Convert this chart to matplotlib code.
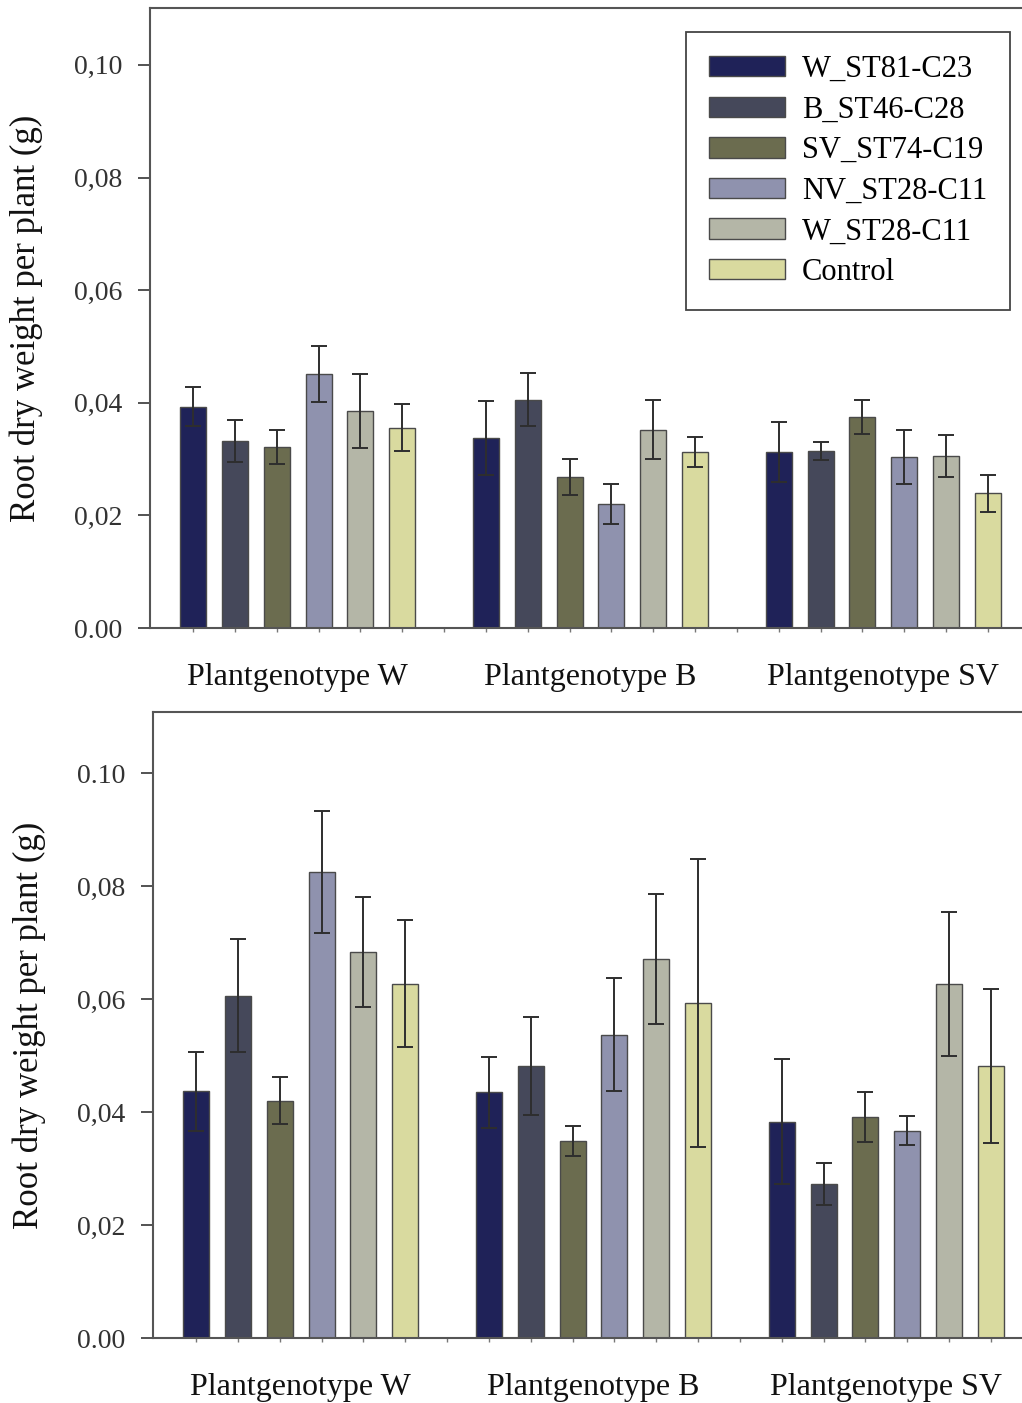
import matplotlib
matplotlib.use("Agg")
import matplotlib.pyplot as plt
import numpy as np

plt.rcParams['font.family'] = ['Liberation Serif', 'DejaVu Serif']

groups = ['Plantgenotype W', 'Plantgenotype B', 'Plantgenotype SV']
strains = ['W_ST81-C23', 'B_ST46-C28', 'SV_ST74-C19', 'NV_ST28-C11', 'W_ST28-C11', 'Control']
colors = ['#1f2258', '#45485a', '#6b6c4f', '#8f92ae', '#b4b6a7', '#d9da9f']

# Top panel (means and errors per plant genotype, order = strains)
top_mean_W = [0.0393, 0.0332, 0.0321, 0.0451, 0.0385, 0.0356]
top_err_W = [0.0035, 0.0037, 0.0030, 0.0050, 0.0066, 0.0042]
top_mean_B = [0.0337, 0.0405, 0.0268, 0.0220, 0.0352, 0.0313]
top_err_B = [0.0066, 0.0047, 0.0032, 0.0036, 0.0052, 0.0027]
top_mean_SV = [0.0313, 0.0315, 0.0374, 0.0304, 0.0306, 0.0239]
top_err_SV = [0.0053, 0.0016, 0.0030, 0.0048, 0.0037, 0.0033]

# Bottom panel
bot_mean_W = [0.0437, 0.0606, 0.0420, 0.0825, 0.0683, 0.0627]
bot_err_W = [0.0070, 0.0100, 0.0042, 0.0108, 0.0098, 0.0112]
bot_mean_B = [0.0435, 0.0481, 0.0349, 0.0537, 0.0671, 0.0593]
bot_err_B = [0.0063, 0.0087, 0.0027, 0.0100, 0.0115, 0.0255]
bot_mean_SV = [0.0383, 0.0273, 0.0391, 0.0367, 0.0627, 0.0481]
bot_err_SV = [0.0110, 0.0037, 0.0044, 0.0026, 0.0127, 0.0136]

yticks = [0.00, 0.02, 0.04, 0.06, 0.08, 0.10]
top_ytick_labels = ['0.00', '0,02', '0,04', '0,06', '0,08', '0,10']
bot_ytick_labels = ['0.00', '0,02', '0,04', '0,06', '0,08', '0.10']
ylabel = 'Root dry weight per plant (g)'

W, H = 1022, 1403
fig = plt.figure(figsize=(W / 100, H / 100), dpi=100)

def make_axes(l, t, b, r):
    return fig.add_axes([l / W, 1 - b / H, (r - l) / W, (b - t) / H])

ax_top = make_axes(150, 8, 628, 1031)
ax_bot = make_axes(153, 712, 1338, 1034)

slots = 7
bar_w = 0.62

def draw(ax, means, errs, ylim_top, tick_labels, legend=False):
    for gi, (m, e) in enumerate(zip(means, errs)):
        for si in range(6):
            x = gi * slots + si
            ax.bar(x, m[si], width=bar_w, color=colors[si], edgecolor='#4a4a4a',
                   linewidth=1.0, zorder=2, label=strains[si] if gi == 0 else None)
            ax.errorbar(x, m[si], yerr=e[si], fmt='none', ecolor='#2e2e2e',
                        elinewidth=1.4, capsize=6, capthick=1.4, zorder=3)
    ax.set_xlim(-1.03, 20.03)
    ax.set_ylim(0, ylim_top)
    ax.set_yticks(yticks)
    ax.set_yticklabels(tick_labels, fontsize=20, color='#333333')
    ax.tick_params(axis='y', direction='out', length=9, width=1.3, color='#444444', pad=11)
    centers = [gi * slots + 2.5 for gi in range(3)]
    ax.set_xticks(centers)
    ax.set_xticklabels(groups, fontsize=23, color='#111111')
    ax.tick_params(axis='x', length=0, pad=25)
    ax.set_xticks(np.arange(0, 21), minor=True)
    ax.tick_params(axis='x', which='minor', direction='out', length=3, width=1, color='#777777')
    for s in ['left', 'top', 'bottom', 'right']:
        ax.spines[s].set_color('#555555')
        ax.spines[s].set_linewidth(1.5)
    ax.set_ylabel(ylabel, fontsize=25, color='#111111')
    ax.yaxis.set_label_coords(-0.122, 0.5)
    if legend:
        leg = ax.legend(loc='upper right', bbox_to_anchor=(1010 / W, 1 - 32 / H),
                        bbox_transform=fig.transFigure, fontsize=22, frameon=True,
                        fancybox=False, edgecolor='#444444', framealpha=1,
                        handlelength=2.5, handleheight=0.65, labelspacing=0.38,
                        borderpad=0.75, handletextpad=0.55, borderaxespad=0)
        leg.get_frame().set_linewidth(1.3)

draw(ax_top, [top_mean_W, top_mean_B, top_mean_SV], [top_err_W, top_err_B, top_err_SV],
     0.1101, top_ytick_labels, legend=True)
draw(ax_bot, [bot_mean_W, bot_mean_B, bot_mean_SV], [bot_err_W, bot_err_B, bot_err_SV],
     0.1108, bot_ytick_labels)

fig.savefig('out.png', dpi=100)
